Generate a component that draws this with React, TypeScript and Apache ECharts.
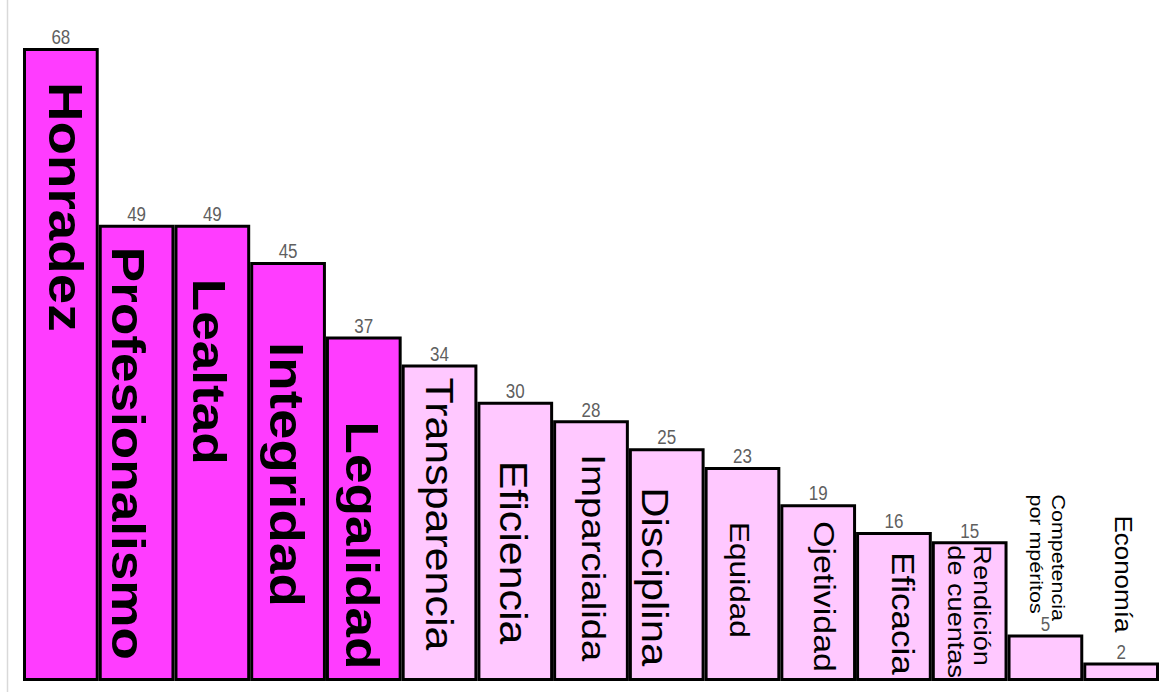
import React, { useEffect, useRef } from "react";
import * as echarts from "echarts";

// ---- data ----
const categories = [
  "Honradez",
  "Profesionalismo",
  "Lealtad",
  "Integridad",
  "Legalidad",
  "Transparencia",
  "Eficiencia",
  "Imparcialida",
  "Disciplina",
  "Equidad",
  "Ojetividad",
  "Eficacia",
  "Rendición\nde cuentas",
  "Competencia\npor mpéritos",
  "Economía",
];
const values = [68, 49, 49, 45, 37, 34, 30, 28, 25, 23, 19, 16, 15, 5, 2];
const highlighted = [true, true, true, true, true, false, false, false, false, false, false, false, false, false, false];

// ---- label layout (relative to each bar's top centre) ----
const labelDx = [5, -9, -3, -1.5, -2, 0, -2, 2.5, -12, -2.5, 6, 8.5, 0, 2, 2];
const labelDy = [34, 22, 54, 80, 85, 13, 59, 34, 39, 55, 17, 20, 4, -140, -147];
const labelSize = [48.5, 47, 47, 48.5, 47, 38, 38, 34, 37, 28, 30, 31, 24, 19, 23];
const labelLineHeight = [48, 47, 47, 48, 47, 38, 38, 34, 37, 28, 30, 31, 26, 22, 23];

const FONT = "'Liberation Sans', Arial, Helvetica, sans-serif";
const MAGENTA = "#ff3cff";
const PINK = "#ffc8ff";

export default function App() {
  const ref = useRef<HTMLDivElement>(null);

  useEffect(() => {
    if (!ref.current) return;
    const chart = echarts.init(ref.current, undefined, { renderer: "svg" });
    const option = {
      animation: false,
      backgroundColor: "#ffffff",
      grid: { left: 23, right: 3, top: 48, bottom: 17, containLabel: false },
      xAxis: {
        type: "category",
        data: categories,
        show: false,
        boundaryGap: true,
      },
      yAxis: { type: "value", min: 0, max: 68, show: false },
      graphic: [
        {
          type: "line",
          shape: { x1: 7.5, y1: 0, x2: 7.5, y2: 692 },
          style: { stroke: "#d9d9d9", lineWidth: 1.5 },
          silent: true,
        },
      ],
      series: [
        {
          type: "bar",
          barCategoryGap: "0%",
          data: values.map((v, i) => ({
            value: v,
            itemStyle: { color: highlighted[i] ? MAGENTA : PINK },
          })),
          itemStyle: { borderColor: "#000000", borderWidth: 3 },
          silent: true,
          z: 2,
        },
        {
          type: "custom",
          silent: true,
          z: 5,
          clip: false,
          data: values.map((v, i) => [i, v]),
          renderItem: (params: any, api: any) => {
            const i = params.dataIndex;
            const pt = api.coord([api.value(0), api.value(1)]);
            const cx = pt[0];
            const top = pt[1];
            return {
              type: "group",
              children: [
                {
                  type: "text",
                  x: cx,
                  y: top - 1,
                  scaleY: 1.15,
                  style: {
                    text: String(values[i]),
                    fontSize: 17,
                    fontFamily: FONT,
                    fill: "#5f5f5f",
                    align: "center",
                    verticalAlign: "bottom",
                  },
                },
                {
                  type: "text",
                  x: cx + labelDx[i],
                  y: top + labelDy[i],
                  rotation: -Math.PI / 2,
                  scaleX: 1.13,
                  style: {
                    text: categories[i],
                    fontSize: labelSize[i],
                    lineHeight: labelLineHeight[i],
                    fontWeight: highlighted[i] ? "bold" : "normal",
                    fontFamily: FONT,
                    fill: "#000000",
                    align: "left",
                    verticalAlign: "middle",
                  },
                },
              ],
            };
          },
        },
      ],
    };
    chart.setOption(option as any);
    return () => chart.dispose();
  }, []);

  return (
    <div
      ref={ref}
      style={{ position: "fixed", left: 0, top: 0, width: 1162, height: 698 }}
    />
  );
}
